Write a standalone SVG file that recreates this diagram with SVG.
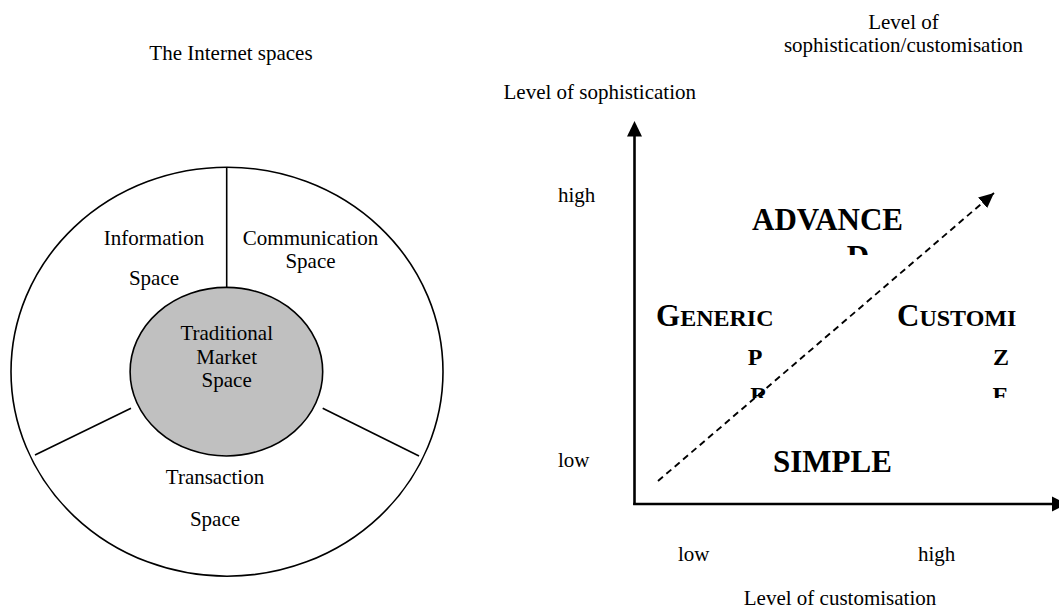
<svg xmlns="http://www.w3.org/2000/svg" width="1059" height="608" viewBox="0 0 1059 608">
  <style>
    .t { font-family: "Liberation Serif", "Times New Roman", serif; font-size: 21px; fill: #000; }
    .b { font-family: "Liberation Serif", "Times New Roman", serif; font-weight: bold; font-size: 31px; fill: #000; }
    .sc { font-size: 24px; }
    .ln { stroke: #000; stroke-width: 1.6; fill: none; }
    .axis { stroke: #000; stroke-width: 2.6; fill: none; }
    .dash { stroke: #000; stroke-width: 1.9; stroke-dasharray: 6.5 4.5; fill: none; }
  </style>
  <defs>
    <marker id="dashHead" markerUnits="userSpaceOnUse" markerWidth="16" markerHeight="14" refX="15" refY="7" orient="auto">
      <path d="M0,0 L15,7 L0,14 Z" fill="#000"/>
    </marker>
    <clipPath id="clipAdv"><rect x="700" y="150" width="260" height="105"/></clipPath>
    <clipPath id="clipGen"><rect x="600" y="290" width="459" height="108"/></clipPath>
  </defs>

  <rect width="1059" height="608" fill="#fff"/>

  <!-- Left diagram: Internet spaces -->
  <text id="title" class="t" x="231" y="60" text-anchor="middle" font-size="24">The Internet spaces</text>

  <g id="outer-circle">
    <ellipse class="ln" cx="227" cy="371.7" rx="216" ry="204.5"/>
  </g>

  <g id="dividers">
    <line class="ln" x1="226.7" y1="167" x2="226.7" y2="287.5"/>
    <line class="ln" x1="35" y1="455" x2="131" y2="408.3"/>
    <line class="ln" x1="322.7" y1="408.3" x2="419" y2="456"/>
  </g>

  <g id="information-space">
    <text class="t" x="154" y="245" text-anchor="middle">Information</text>
    <text class="t" x="154" y="285" text-anchor="middle">Space</text>
  </g>

  <g id="communication-space">
    <text class="t" x="310.5" y="245" text-anchor="middle">Communication</text>
    <text class="t" x="310.5" y="268" text-anchor="middle">Space</text>
  </g>

  <g id="transaction-space">
    <text class="t" x="215" y="484" text-anchor="middle">Transaction</text>
    <text class="t" x="215" y="525.5" text-anchor="middle">Space</text>
  </g>

  <g id="traditional-market-space">
    <ellipse cx="226.4" cy="371.7" rx="96.3" ry="84.3" fill="#c0c0c0" stroke="#000" stroke-width="1.6"/>
    <text class="t" x="226.7" y="340" text-anchor="middle">Traditional</text>
    <text class="t" x="226.7" y="363.5" text-anchor="middle">Market</text>
    <text class="t" x="226.7" y="387" text-anchor="middle">Space</text>
  </g>

  <!-- Right diagram -->
  <g id="connectors">
    <line class="axis" x1="634.5" y1="505" x2="634.5" y2="135"/>
    <path d="M634.5,121 L642,136.5 L627,136.5 Z" fill="#000"/>
    <line class="axis" x1="633.2" y1="504" x2="1053" y2="504"/>
    <path d="M1052,496.5 L1067,504 L1052,511.5 Z" fill="#000"/>
    <line class="dash" x1="658" y1="481" x2="994" y2="193" marker-end="url(#dashHead)"/>
  </g>

  <g id="axis-labels">
    <text class="t" x="696" y="99" text-anchor="end">Level of sophistication</text>
    <text class="t" x="903.5" y="29" text-anchor="middle">Level of</text>
    <text class="t" x="903.5" y="52" text-anchor="middle">sophistication/customisation</text>
    <text class="t" x="558" y="202">high</text>
    <text class="t" x="558" y="467">low</text>
    <text class="t" x="678" y="561">low</text>
    <text class="t" x="918" y="561">high</text>
    <text class="t" x="840" y="605" text-anchor="middle">Level of customisation</text>
  </g>

  <g id="advanced" clip-path="url(#clipAdv)">
    <text class="b" x="752" y="230">ADVANCE</text>
    <text class="b" x="858" y="267" text-anchor="middle">D</text>
  </g>

  <g id="generic-product" clip-path="url(#clipGen)">
    <text class="b" x="656" y="326">G<tspan class="sc">ENERIC</tspan></text>
    <text class="b sc" x="755" y="365" text-anchor="middle">P</text>
    <text class="b sc" x="759" y="403" text-anchor="middle">R</text>
  </g>

  <g id="customized" clip-path="url(#clipGen)">
    <text class="b" x="897" y="326">C<tspan class="sc">USTOMI</tspan></text>
    <text class="b sc" x="1001" y="365" text-anchor="middle">Z</text>
    <text class="b sc" x="1000.5" y="403" text-anchor="middle">E</text>
  </g>

  <g id="simple">
    <text class="b" x="773" y="472">SIMPLE</text>
  </g>
</svg>
